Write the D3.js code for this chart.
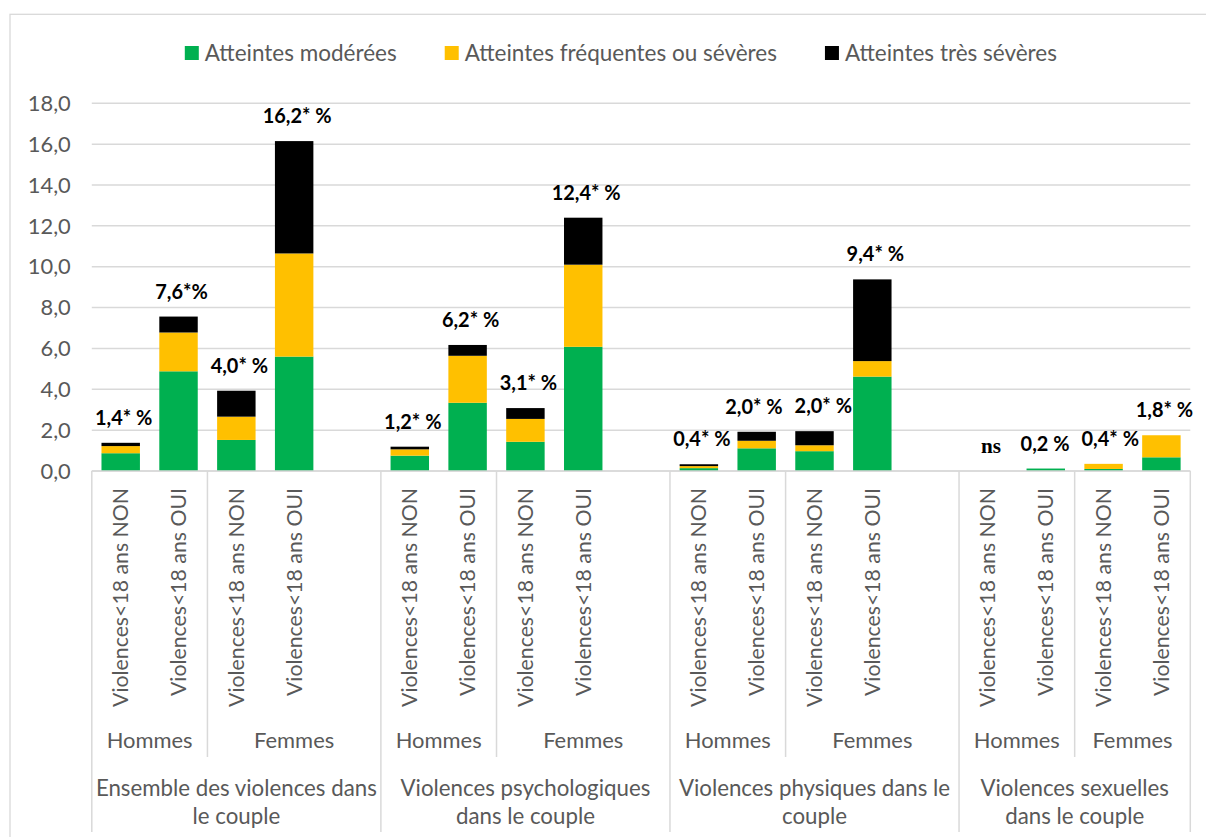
<!DOCTYPE html>
<html>
<head>
<meta charset="utf-8">
<script src="https://cdn.jsdelivr.net/npm/d3@7"></script>
<style>
  html, body { margin: 0; padding: 0; background: #ffffff; }
  svg { display: block; }
</style>
</head>
<body>
<svg id="chart" width="1206" height="837"></svg>
<script>
// ---------------- DATA ----------------
const groupLines = [
  ["Ensemble des violences dans", "le couple"],
  ["Violences psychologiques", "dans le couple"],
  ["Violences physiques dans le", "couple"],
  ["Violences sexuelles", "dans le couple"]
];
const sexes = ["Hommes", "Femmes"];
const exposures = ["Violences<18 ans NON", "Violences<18 ans OUI"];
// the source table has an empty row after "Femmes" in the first three groups
const blankAfter = [true, true, true, false];

const seriesNames = ["Atteintes modérées", "Atteintes fréquentes ou sévères", "Atteintes très sévères"];
const seriesColors = ["#00b050", "#ffc000", "#000000"];

// order: per group -> Hommes NON, Hommes OUI, Femmes NON, Femmes OUI
const moderees   = [0.87, 4.88, 1.52, 5.60,  0.75, 3.34, 1.43, 6.08,  0.14, 1.11, 0.97, 4.62,  0.00, 0.12, 0.10, 0.67];
const frequentes = [0.35, 1.90, 1.14, 5.05,  0.31, 2.30, 1.12, 4.02,  0.10, 0.37, 0.29, 0.76,  0.00, 0.00, 0.25, 1.08];
const tresSeveres= [0.16, 0.78, 1.27, 5.50,  0.13, 0.53, 0.53, 2.30,  0.09, 0.44, 0.69, 4.00,  0.00, 0.00, 0.00, 0.00];
const valueLabels = ["1,4* %", "7,6*%", "4,0* %", "16,2* %",
                     "1,2* %", "6,2* %", "3,1* %", "12,4* %",
                     "0,4* %", "2,0* %", "2,0* %", "9,4* %",
                     "ns", "0,2 %", "0,4* %", "1,8* %"];
const yTicks = [0, 2, 4, 6, 8, 10, 12, 14, 16, 18];

// ---------------- LAYOUT ----------------
const svg = d3.select("#chart");
const FONT = "Lato, 'Open Sans', sans-serif";
const SERIF = "'Liberation Serif', 'DejaVu Serif', serif";
const GRAY = "#595959";
const LINE = "#d9d9d9";
const plot = { left: 91.8, right: 1190.3, top: 103.3, bottom: 471 };

function fit(str, target, weight, family) {
  const t = svg.append("text").attr("font-family", family || FONT)
    .attr("font-weight", weight || "normal").attr("font-size", 100).text(str);
  const w = t.node().getComputedTextLength();
  t.remove();
  return 100 * target / w;
}
const fsLegend = fit("Atteintes modérées", 192);
const fsTick = fit("18,0", 43);
const fsCat = fit("Violences<18 ans NON", 219);
const fsSex = fit("Hommes", 86);
const fsGroup = fit("Ensemble des violences dans", 281);
const fsBold = fit("16,2* %", 69, "bold");
const fsNs = fit("ns", 20, "bold", SERIF);

// chart area border
svg.append("rect").attr("x", 10).attr("y", 14.3).attr("width", 1230).attr("height", 860)
  .attr("fill", "none").attr("stroke", LINE).attr("stroke-width", 1.3);

// slots
const slots = [];
groupLines.forEach((g, gi) => {
  sexes.forEach(s => exposures.forEach(e => slots.push({ key: gi + "|" + s + "|" + e, g: gi, s: s, e: e })));
  if (blankAfter[gi]) slots.push({ key: gi + "|blank", g: gi, s: "Femmes", e: null });
});

const P = 0.335;
const x = d3.scaleBand().domain(slots.map(d => d.key)).range([plot.left, plot.right])
  .paddingInner(P).paddingOuter(P / 2);
const step = x.step();
const slotStart = k => x(k) - step * P / 2;

const y = d3.scaleLinear().domain([0, 18]).range([plot.bottom, plot.top]);

// gridlines
const fmt = v => d3.format(".1f")(v).replace(".", ",");
svg.append("g").selectAll("line").data(yTicks).join("line")
  .attr("x1", plot.left).attr("x2", plot.right)
  .attr("y1", d => y(d)).attr("y2", d => y(d))
  .attr("stroke", LINE).attr("stroke-width", 1.5);
svg.append("g").selectAll("text").data(yTicks).join("text")
  .attr("x", 70.8).attr("y", d => y(d)).attr("dy", "0.35em")
  .attr("text-anchor", "end").attr("font-family", FONT).attr("font-size", fsTick)
  .attr("fill", GRAY).text(fmt);

// bars
const barData = moderees.map((m, i) => ({
  key: Math.floor(i / 4) + "|" + sexes[Math.floor((i % 4) / 2)] + "|" + exposures[i % 2],
  s0: m, s1: frequentes[i], s2: tresSeveres[i], label: valueLabels[i]
}));
const stack = d3.stack().keys(["s0", "s1", "s2"])(barData);
svg.append("g").selectAll("g").data(stack).join("g")
  .attr("fill", (d, i) => seriesColors[i])
  .selectAll("rect").data(d => d.filter(p => p[1] - p[0] > 0)).join("rect")
  .attr("x", d => x(d.data.key)).attr("width", x.bandwidth())
  .attr("y", d => y(d[1])).attr("height", d => y(d[0]) - y(d[1]));

// value labels (with simple collision avoidance)
const lab = svg.append("g").selectAll("text").data(barData).join("text")
  .attr("x", d => x(d.key) + x.bandwidth() / 2 + 3)
  .attr("y", d => y(d.s0 + d.s1 + d.s2) - 25).attr("dy", "0.35em")
  .attr("text-anchor", "middle")
  .attr("font-family", d => d.label === "ns" ? SERIF : FONT)
  .attr("font-size", d => d.label === "ns" ? fsNs : fsBold)
  .attr("font-weight", "bold").attr("fill", "#000").text(d => d.label);
const boxes = lab.nodes().map(n => ({ n: n, cx: +n.getAttribute("x"), cy: +n.getAttribute("y"), w: n.getComputedTextLength() }));
for (let it = 0; it < 5; it++) {
  for (let i = 0; i < boxes.length - 1; i++) {
    const a = boxes[i], b = boxes[i + 1];
    if (Math.abs(a.cy - b.cy) < 22) {
      const need = (a.w + b.w) / 2 + 12 - (b.cx - a.cx);
      if (need > 0) { a.cx -= need / 2; b.cx += need / 2; }
    }
  }
}
boxes.forEach(b => b.n.setAttribute("x", b.cx));

// category axis: rotated labels
svg.append("g").selectAll("text").data(slots.filter(d => d.e)).join("text")
  .attr("transform", d => `translate(${x(d.key) + x.bandwidth() / 2},488) rotate(-90)`)
  .attr("dy", "0.35em").attr("text-anchor", "end")
  .attr("font-family", FONT).attr("font-size", fsCat).attr("fill", GRAY).text(d => d.e);

// sex subgroup labels and separators
const subSpans = [];
groupLines.forEach((g, gi) => sexes.forEach(s => {
  const ks = slots.filter(d => d.g === gi && d.s === s);
  subSpans.push({ g: gi, s: s, x0: slotStart(ks[0].key), x1: slotStart(ks[ks.length - 1].key) + step });
}));
svg.append("g").selectAll("text").data(subSpans).join("text")
  .attr("x", d => (d.x0 + d.x1) / 2).attr("y", 740).attr("dy", "0.35em")
  .attr("text-anchor", "middle").attr("font-family", FONT).attr("font-size", fsSex)
  .attr("fill", GRAY).text(d => d.s);
svg.append("g").selectAll("line").data(subSpans.filter(d => d.s === "Femmes")).join("line")
  .attr("x1", d => d.x0).attr("x2", d => d.x0).attr("y1", plot.bottom).attr("y2", 757)
  .attr("stroke", LINE).attr("stroke-width", 1.5);

// group labels and separators
const groupSpans = groupLines.map((lines, gi) => {
  const ks = slots.filter(d => d.g === gi);
  return { lines: lines, x0: slotStart(ks[0].key), x1: slotStart(ks[ks.length - 1].key) + step };
});
const gl = svg.append("g").selectAll("text").data(groupSpans).join("text")
  .attr("text-anchor", "middle").attr("font-family", FONT).attr("font-size", fsGroup).attr("fill", GRAY);
gl.selectAll("tspan").data(d => d.lines.map((l, i) => ({ l: l, i: i, cx: (d.x0 + d.x1) / 2 }))).join("tspan")
  .attr("x", d => d.cx).attr("y", d => 788 + d.i * 28.7).attr("dy", "0.35em").text(d => d.l);
const bounds = groupSpans.map(d => d.x0).concat([groupSpans[groupSpans.length - 1].x1]);
svg.append("g").selectAll("line").data(bounds).join("line")
  .attr("x1", d => d).attr("x2", d => d).attr("y1", plot.bottom).attr("y2", 832)
  .attr("stroke", LINE).attr("stroke-width", 1.5);

// baseline
svg.append("line").attr("x1", plot.left).attr("x2", plot.right)
  .attr("y1", y(0)).attr("y2", y(0)).attr("stroke", LINE).attr("stroke-width", 1.5);

// legend
const lg = svg.append("g");
let lx = 184.8;
seriesNames.forEach((n, i) => {
  lg.append("rect").attr("x", lx).attr("y", 46).attr("width", 14).attr("height", 14).attr("fill", seriesColors[i]);
  const t = lg.append("text").attr("x", lx + 20).attr("y", 53).attr("dy", "0.35em")
    .attr("font-family", FONT).attr("font-size", fsLegend).attr("fill", GRAY).text(n);
  lx += 20 + t.node().getComputedTextLength() + 48;
});
</script>
</body>
</html>
